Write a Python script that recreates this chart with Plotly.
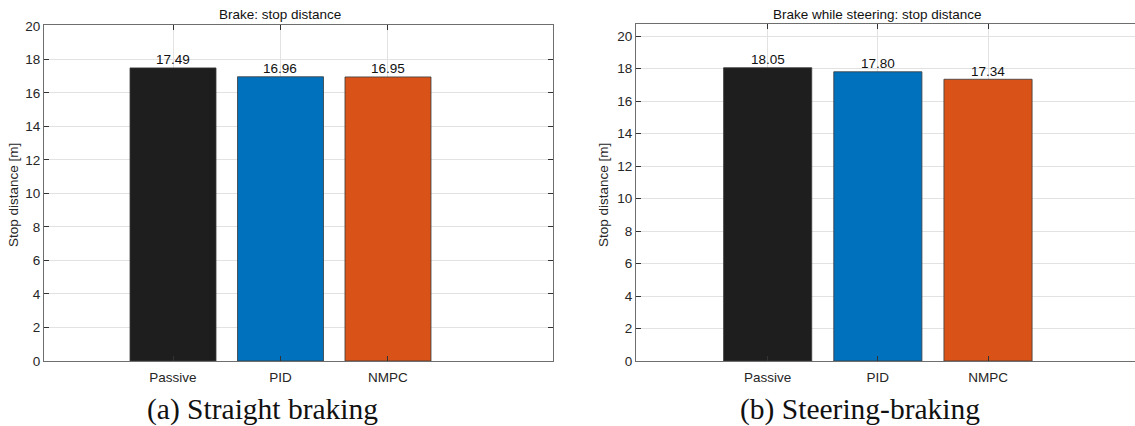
import plotly.graph_objects as go

W, H = 1135, 426

controllers = ["Passive", "PID", "NMPC"]
stop_straight = [17.49, 16.96, 16.95]
stop_steering = [18.05, 17.80, 17.34]
bar_colors = ["#1e1e1e", "#0072bd", "#d95319"]
y_ticks = [0, 2, 4, 6, 8, 10, 12, 14, 16, 18, 20]

panel_titles = ["Brake: stop distance", "Brake while steering: stop distance"]
captions = ["(a) Straight braking", "(b) Steering-braking"]
y_label = "Stop distance [m]"

FONT = "Liberation Sans, Arial, sans-serif"
SERIF = "Liberation Serif, Times New Roman, serif"
AXIS_COLOR = "#6e6e6e"
GRID_COLOR = "#e2e2e2"
TEXT_COLOR = "#262626"
FS = 13.5


def px_x(p):
    return p / W


def px_y(p):
    return 1 - p / H


fig = go.Figure()
annotations = []

for i, vals in enumerate([stop_straight, stop_steering]):
    sfx = "" if i == 0 else "2"
    fig.add_trace(go.Bar(
        x=controllers, y=vals,
        marker=dict(color=bar_colors, line=dict(color="#3a3a3a", width=0.8)),
        width=0.8,
        xaxis="x" + sfx, yaxis="y" + sfx,
        showlegend=False, hoverinfo="skip",
    ))
    # value labels sitting just above each bar
    for c, v in zip(controllers, vals):
        annotations.append(dict(
            text=f"{v:.2f}", xref="x" + sfx, x=c, yref="y" + sfx, y=v,
            xanchor="center", yanchor="bottom", yshift=-1.5, showarrow=False,
            font=dict(family=FONT, size=FS, color="#111111"),
        ))

common_x = dict(
    type="category", showline=True, linecolor=AXIS_COLOR, linewidth=1.2,
    mirror="ticks", ticks="inside", ticklen=5, tickcolor="#333333",
    showgrid=True, gridcolor=GRID_COLOR, gridwidth=1,
    tickfont=dict(family=FONT, size=FS, color=TEXT_COLOR),
    ticklabelstandoff=4, zeroline=False, fixedrange=True, automargin=False,
)
common_y = dict(
    showline=True, linecolor=AXIS_COLOR, linewidth=1.2,
    ticks="inside", ticklen=5, tickcolor="#333333",
    tickvals=y_ticks, showgrid=True, gridcolor=GRID_COLOR, gridwidth=1,
    tickfont=dict(family=FONT, size=FS, color=TEXT_COLOR),
    zeroline=False, fixedrange=True, automargin=False,
)

fig.update_layout(
    template="none",
    width=W, height=H,
    margin=dict(l=0, r=0, t=0, b=0, pad=0, autoexpand=False),
    paper_bgcolor="white", plot_bgcolor="white",
    xaxis=dict(common_x, domain=[px_x(44), px_x(553)], range=[-1.2, 3.535],
               anchor="y"),
    yaxis=dict(common_y, domain=[px_y(361), px_y(25)], range=[0, 20.05],
               mirror="ticks", anchor="x"),
    xaxis2=dict(common_x, domain=[px_x(636), 1.0], range=[-1.195, 3.334],
                anchor="y2"),
    yaxis2=dict(common_y, domain=[px_y(361), px_y(24)], range=[0, 20.74],
                mirror=False, anchor="x2"),
)

# panel titles, centred over the middle bar
for i, t in enumerate(panel_titles):
    sfx = "" if i == 0 else "2"
    annotations.append(dict(
        text=t, xref="x" + sfx, x="PID", yref="paper", y=px_y(15),
        xanchor="center", yanchor="middle", showarrow=False,
        font=dict(family=FONT, size=FS, color="#111111"),
    ))
# y-axis labels
for xp in [13, 603]:
    annotations.append(dict(
        text=y_label, xref="paper", x=px_x(xp), yref="paper", y=px_y(195),
        xanchor="center", yanchor="middle", textangle=-90, showarrow=False,
        font=dict(family=FONT, size=FS, color=TEXT_COLOR),
    ))
# sub-figure captions
for xp, c in zip([262, 860], captions):
    annotations.append(dict(
        text=c, xref="paper", x=px_x(xp), yref="paper", y=px_y(409),
        xanchor="center", yanchor="middle", showarrow=False,
        font=dict(family=SERIF, size=29.5, color="#111111"),
    ))

fig.update_layout(annotations=annotations)

fig.write_html("out.html")
